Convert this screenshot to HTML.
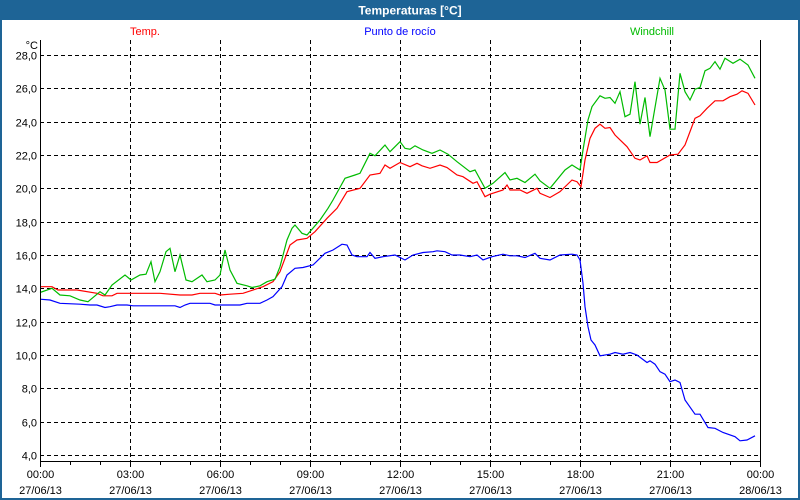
<!DOCTYPE html>
<html><head><meta charset="utf-8">
<style>
html,body{margin:0;padding:0;background:#fff;}
#wrap{position:relative;width:800px;height:500px;overflow:hidden;font-family:"Liberation Sans",sans-serif;}
svg text{font-family:"Liberation Sans",sans-serif;}
</style></head>
<body>
<div id="wrap">
<svg id="chart" width="800" height="500" viewBox="0 0 800 500" xmlns="http://www.w3.org/2000/svg">
  <rect x="0" y="0" width="800" height="500" fill="#ffffff"/>
  <rect x="0" y="0" width="800" height="20" fill="#1e6496"/>
  <rect x="1" y="1" width="798" height="498" fill="none" stroke="#1e6496" stroke-width="2"/>
  <text x="410" y="14.5" text-anchor="middle" font-size="12" font-weight="bold" fill="#ffffff">Temperaturas [°C]</text>
  <text x="145" y="35" text-anchor="middle" font-size="11" fill="#ff0000">Temp.</text>
  <text x="400" y="35" text-anchor="middle" font-size="11" fill="#0000ff">Punto de rocío</text>
  <text x="652" y="35" text-anchor="middle" font-size="11" fill="#00bb00">Windchill</text>
  <text x="38" y="49" text-anchor="end" font-size="11" fill="#000">°C</text>
  <g id="grid"></g>
  <g id="series"></g>
  <g id="axes"></g>
</svg>
</div>
<script>
const yTicks = [4, 6, 8, 10, 12, 14, 16, 18, 20, 22, 24, 26, 28];
const xTickHours = [0, 3, 6, 9, 12, 15, 18, 21, 24];
const xTickTimes = ["00:00","03:00","06:00","09:00","12:00","15:00","18:00","21:00","00:00"];
const xTickDates = ["27/06/13","27/06/13","27/06/13","27/06/13","27/06/13","27/06/13","27/06/13","27/06/13","28/06/13"];

// [minutes since 00:00, value]
const tempData = [[0,14.1],[24,14.1],[36,13.9],[74,13.9],[114,13.7],[126,13.55],[144,13.55],[154,13.7],[200,13.7],[240,13.7],[280,13.6],[304,13.6],[320,13.7],[350,13.7],[360,13.6],[380,13.65],[406,13.7],[446,14.1],[466,14.4],[480,15.0],[500,16.6],[514,16.9],[534,17.0],[550,17.4],[574,18.2],[594,18.8],[614,19.8],[640,20.0],[660,20.8],[680,20.9],[690,21.4],[700,21.2],[720,21.55],[740,21.3],[754,21.5],[764,21.35],[780,21.2],[800,21.4],[814,21.25],[834,20.8],[846,20.7],[866,20.3],[874,20.4],[890,19.5],[900,19.65],[926,19.9],[934,20.2],[940,19.9],[960,19.9],[974,19.7],[994,20.0],[1000,19.7],[1020,19.45],[1040,19.8],[1064,20.5],[1074,20.4],[1082,20.1],[1090,21.7],[1100,23.0],[1110,23.6],[1120,23.85],[1130,23.6],[1140,23.65],[1150,23.2],[1174,22.5],[1190,21.8],[1200,21.7],[1214,21.95],[1220,21.55],[1234,21.55],[1260,22.0],[1276,22.05],[1290,22.6],[1310,24.2],[1320,24.35],[1334,24.8],[1350,25.25],[1366,25.25],[1380,25.5],[1394,25.65],[1404,25.85],[1416,25.7],[1430,25.0]];

const dewData = [[0,13.35],[20,13.3],[40,13.1],[80,13.05],[100,13.0],[114,13.0],[130,12.85],[140,12.9],[154,13.0],[174,13.0],[186,12.95],[220,12.95],[270,12.95],[280,12.85],[290,13.0],[300,13.1],[340,13.1],[350,13.0],[400,13.0],[414,13.1],[440,13.1],[454,13.3],[466,13.5],[484,14.1],[494,14.8],[510,15.2],[526,15.25],[546,15.4],[570,16.1],[586,16.3],[604,16.65],[614,16.6],[624,16.0],[634,15.9],[654,15.9],[660,16.15],[670,15.8],[686,15.9],[710,16.0],[730,15.7],[746,16.0],[766,16.15],[786,16.2],[794,16.25],[810,16.2],[824,16.0],[840,16.0],[860,15.9],[874,16.0],[886,15.7],[904,15.9],[926,16.05],[940,15.95],[954,15.95],[970,15.85],[990,16.1],[1000,15.8],[1020,15.7],[1040,16.0],[1064,16.05],[1074,16.0],[1080,15.7],[1086,14.3],[1090,12.9],[1096,11.7],[1102,10.9],[1110,10.6],[1120,9.95],[1140,10.05],[1150,10.15],[1166,10.05],[1180,10.15],[1194,10.0],[1214,9.55],[1220,9.65],[1230,9.45],[1240,9.0],[1250,8.85],[1260,8.4],[1270,8.5],[1280,8.35],[1290,7.3],[1310,6.45],[1320,6.45],[1336,5.65],[1350,5.6],[1366,5.35],[1390,5.1],[1400,4.85],[1414,4.9],[1430,5.15]];

const windData = [[0,13.75],[24,14.0],[40,13.6],[60,13.55],[80,13.3],[96,13.2],[120,13.8],[130,13.6],[144,14.2],[170,14.8],[182,14.5],[200,14.8],[212,14.85],[222,15.6],[230,14.4],[240,15.0],[252,16.2],[260,16.4],[270,15.0],[280,16.0],[292,14.5],[304,14.4],[324,14.8],[334,14.4],[350,14.5],[360,14.8],[370,16.3],[380,15.1],[394,14.3],[414,14.15],[424,14.05],[440,14.15],[454,14.4],[470,14.55],[480,15.3],[494,16.9],[504,17.6],[510,17.8],[524,17.3],[534,17.2],[560,18.1],[576,18.8],[586,19.3],[610,20.6],[630,20.8],[640,20.9],[660,22.1],[670,21.95],[690,22.6],[700,22.2],[720,22.8],[730,22.4],[740,22.35],[750,22.55],[766,22.3],[784,22.1],[800,22.3],[816,22.05],[834,21.6],[860,21.0],[870,21.1],[890,20.0],[906,20.3],[930,20.95],[940,20.5],[954,20.6],[970,20.35],[990,20.85],[1000,20.45],[1020,20.0],[1050,21.1],[1064,21.4],[1080,21.1],[1086,22.3],[1096,24.1],[1104,24.9],[1120,25.55],[1130,25.4],[1140,25.45],[1150,25.1],[1160,25.8],[1170,24.3],[1180,24.45],[1190,26.4],[1200,23.85],[1210,25.45],[1220,23.1],[1240,26.6],[1250,25.9],[1260,23.55],[1270,23.55],[1280,26.9],[1290,25.8],[1300,25.3],[1310,25.95],[1320,26.05],[1330,27.05],[1340,27.2],[1350,27.6],[1360,27.15],[1370,27.8],[1386,27.5],[1400,27.75],[1416,27.4],[1430,26.6]];

const NS = "http://www.w3.org/2000/svg";
const plotLeft = 40, plotRight = 760, plotTop = 40, plotBottom = 461;
const yMin = 4, yMax = 28, yAtMin = 455, yAtMax = 55;
function xScale(min){ return plotLeft + (min/1440)*(plotRight-plotLeft); }
function yScale(v){ return yAtMin - (v-yMin)/(yMax-yMin)*(yAtMin-yAtMax); }

const grid = document.getElementById('grid');
const axes = document.getElementById('axes');
const series = document.getElementById('series');

yTicks.forEach(v=>{
  const y = Math.round(yScale(v))+0.5;
  const ln = document.createElementNS(NS,'line');
  
  
  ln.setAttribute('x1',plotLeft); ln.setAttribute('x2',plotRight);
  ln.setAttribute('y1',y); ln.setAttribute('y2',y);
  ln.setAttribute('stroke','#000'); ln.setAttribute('stroke-dasharray','4,3');
  grid.appendChild(ln);
  const t = document.createElementNS(NS,'text');
  
  
  t.setAttribute('x',37); t.setAttribute('y',y+4);
  t.setAttribute('text-anchor','end'); t.setAttribute('font-size','11');
  t.textContent = v.toFixed(1).replace('.',',');
  axes.appendChild(t);
});

xTickHours.forEach((h,i)=>{
  const x = Math.round(xScale(h*60))+0.5;
  if(h>0 && h<24){
    const ln = document.createElementNS(NS,'line');
    
    
    ln.setAttribute('x1',x); ln.setAttribute('x2',x);
    ln.setAttribute('y1',plotTop); ln.setAttribute('y2',plotBottom);
    ln.setAttribute('stroke','#000'); ln.setAttribute('stroke-dasharray','4,3');
    grid.appendChild(ln);
  }
  const t1 = document.createElementNS(NS,'text');
  
  
  t1.setAttribute('x',x); t1.setAttribute('y',478);
  t1.setAttribute('text-anchor','middle'); t1.setAttribute('font-size','11');
  t1.textContent = xTickTimes[i];
  axes.appendChild(t1);
  const t2 = document.createElementNS(NS,'text');
  
  
  t2.setAttribute('x',x); t2.setAttribute('y',494);
  t2.setAttribute('text-anchor','middle'); t2.setAttribute('font-size','11');
  t2.textContent = xTickDates[i];
  axes.appendChild(t2);
});

for(let h=0; h<=24; h++){
  const x = Math.round(xScale(h*60))+0.5;
  const tk = document.createElementNS(NS,'line');
  
  
  tk.setAttribute('x1',x); tk.setAttribute('x2',x);
  tk.setAttribute('y1',plotBottom); tk.setAttribute('y2',plotBottom+(h%3===0?6:4));
  tk.setAttribute('stroke','#000');
  axes.appendChild(tk);
}

const ax = document.createElementNS(NS,'path');


ax.setAttribute('d',`M${plotLeft+0.5},${plotTop} V${plotBottom+0.5} H${plotRight+0.5} V${plotTop}`);
ax.setAttribute('fill','none'); ax.setAttribute('stroke','#000');
axes.appendChild(ax);

function drawSeries(data, color, name){
  const p = document.createElementNS(NS,'polyline');
  
  
  p.setAttribute('points', data.map(d=>xScale(d[0]).toFixed(1)+','+yScale(d[1]).toFixed(1)).join(' '));
  p.setAttribute('fill','none'); p.setAttribute('stroke',color); p.setAttribute('stroke-width','1.2');
  series.appendChild(p);
}
drawSeries(dewData,'#0000ff','dew-point-line');
drawSeries(tempData,'#ff0000','temp-line');
drawSeries(windData,'#00bb00','windchill-line');
</script>
</body></html>
